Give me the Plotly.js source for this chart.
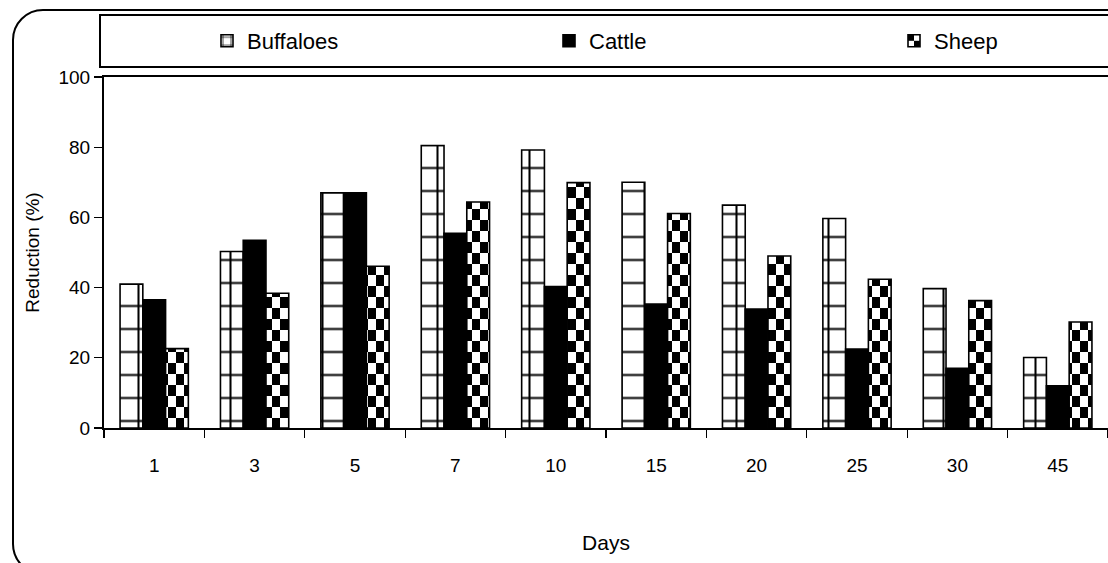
<!DOCTYPE html>
<html><head><meta charset="utf-8">
<script src="https://cdn.plot.ly/plotly-3.0.1.min.js"></script>
<style>
html,body{margin:0;padding:0;background:#fff;overflow:hidden}
#wrap{position:relative;width:1108px;height:563px;overflow:hidden}
#chart{width:1108px;height:563px}
#frame{position:absolute;left:12px;top:9px;width:1200px;height:562px;border:2px solid #000;border-radius:31px;pointer-events:none}
</style></head><body>
<div id="wrap"><div id="chart"></div><div id="frame"></div></div>
<script>
const days = ['1','3','5','7','10','15','20','25','30','45'];
const buffaloes = [41, 50.3, 67, 80.5, 79.2, 70, 63.5, 59.7, 39.7, 20.1];
const cattle = [36.5, 53.5, 67, 55.5, 40.3, 35.3, 33.9, 22.5, 17, 12];
const sheep = [22.6, 38.4, 46.1, 64.4, 69.9, 61.1, 49, 42.4, 36.3, 30.2];
const yTicks = [0, 20, 40, 60, 80, 100];

const FONT = '"Liberation Sans", Arial, sans-serif';
const line = {color: '#000', width: 1.6};

const traces = [
  {type: 'bar', name: 'Buffaloes', x: days, y: buffaloes, legend: 'legend',
   marker: {color: '#fff', line: line,
            pattern: {shape: '+', size: 23, solidity: 0.17, fgcolor: '#000', bgcolor: '#fff', fillmode: 'replace'}}},
  {type: 'bar', name: 'Cattle', x: days, y: cattle, legend: 'legend2',
   marker: {color: '#000', line: line}},
  {type: 'bar', name: 'Sheep', x: days, y: sheep, legend: 'legend3',
   marker: {color: '#fff', line: line,
            pattern: {shape: '.', size: 8, solidity: 0.5, fgcolor: '#000', bgcolor: '#fff', fillmode: 'replace'}}}
];

// paper coords helpers (plot area: x 104..1108, y 77..428)
const px = v => (v - 104) / 1004;
const py = v => (428 - v) / 351;

const legendBase = x => ({orientation: 'h', x: px(x), xanchor: 'left', y: py(41), yanchor: 'middle',
  font: {family: FONT, size: 22, color: '#000'}, bgcolor: 'rgba(0,0,0,0)', borderwidth: 0});

const layout = {
  width: 1108, height: 563,
  margin: {l: 104, r: 0, t: 77, b: 135},
  paper_bgcolor: '#fff', plot_bgcolor: '#fff',
  font: {family: FONT, color: '#000', size: 19},
  barmode: 'group', bargap: 0.32, bargroupgap: 0,
  showlegend: true,
  legend: legendBase(207),
  legend2: legendBase(549),
  legend3: legendBase(894),
  xaxis: {type: 'category', showline: true, linecolor: '#000', linewidth: 1.6, mirror: true,
          ticks: 'outside', tickson: 'boundaries', ticklen: 8, tickcolor: '#000', tickwidth: 1.2,
          ticklabelstandoff: 20,
          showgrid: false, zeroline: false, tickfont: {family: FONT, size: 19},
          title: {text: 'Days', font: {family: FONT, size: 21}, standoff: 60}},
  yaxis: {range: [0, 100], tickvals: yTicks, ticktext: yTicks.map(String), showline: true,
          linecolor: '#000', linewidth: 2, ticks: 'outside', ticklen: 8, tickcolor: '#000', tickwidth: 1.2,
          showgrid: false, zeroline: false, tickfont: {family: FONT, size: 19},
          title: {text: 'Reduction (%)', font: {family: FONT, size: 19}, standoff: 14}},
  shapes: [
    {type: 'rect', xref: 'paper', yref: 'paper', x0: px(100), x1: px(1120), y0: py(67), y1: py(15),
     line: {color: '#000', width: 2}, fillcolor: 'rgba(0,0,0,0)', layer: 'above'}
  ]
};

Plotly.newPlot('chart', traces, layout, {displayModeBar: false, staticPlot: true}).then(function () {
  const NS = 'http://www.w3.org/2000/svg';
  document.querySelectorAll('pattern').forEach(function (p) {
    if (p.querySelector('circle')) {
      // Sheep: checkerboard instead of dots
      const w = 16, h = 22;
      p.setAttribute('width', w); p.setAttribute('height', h);
      while (p.firstChild) p.removeChild(p.firstChild);
      const mk = (x, y, ww, hh, c) => {
        const r = document.createElementNS(NS, 'rect');
        r.setAttribute('x', x); r.setAttribute('y', y);
        r.setAttribute('width', ww); r.setAttribute('height', hh);
        r.setAttribute('fill', c); p.appendChild(r);
      };
      mk(0, 0, w, h, '#fff');
      mk(0, 0, w / 2, h / 2, '#000');
      mk(w / 2, h / 2, w / 2, h / 2, '#000');
    } else if (p.querySelector('path')) {
      // Buffaloes grid: shift horizontal lines to match the original
      p.setAttribute('y', 10.5);
    }
  });
});
</script>
</body></html>
